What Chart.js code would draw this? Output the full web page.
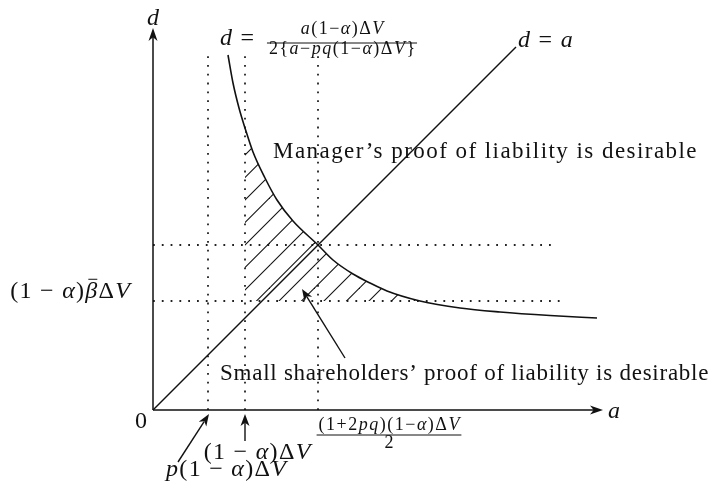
<!DOCTYPE html>
<html lang="en">
<head>
<meta charset="UTF-8">
<title>Proof of liability regions</title>
<script src="https://cdn.jsdelivr.net/npm/chart.js"></script>
<style>
  body { margin: 0; background: #fff; }
  #wrap { width: 714px; height: 490px; }
</style>
</head>
<body>
<div id="wrap"><canvas id="regionChart"></canvas></div>
<script>
// boundary d = a(1-α)ΔV / 2{a - pq(1-α)ΔV}, point by point
const curveA = [75, 80, 86, 92, 100, 112, 124, 140, 165, 180, 200, 217, 234, 267, 307, 347, 397, 444];
const curveD = [355, 327, 302, 282, 258, 232, 210, 189, 165, 150, 136, 127, 119, 109, 102, 98, 94.5, 92];
// hatched band: from a = (1-α)ΔV to where the curve drops to the β̄ level
const hatchFrom = 92, hatchTo = 267;
const diagonalEnd = 363;           // d = a
const guideA = [55, 92, 165];      // p(1-α)ΔV, (1-α)ΔV, (1+2pq)(1-α)ΔV/2
const guideTop = 354;
const levelD = [165, 109];         // crossing level, (1-α)β̄ΔV
const levelEnd = [401, 410];
const axisMaxA = 450, axisMaxD = 382;

const ink = '#111';
const serif = '"Liberation Serif", serif';
const bodySize = 24, bodyTrack = 1.3;
const fracSize = 18, fracTrack = 1.5;

const pts = (xs, ys) => xs.map((v, i) => ({ x: v, y: ys[i] }));

function hatchPattern() {
  const c = document.createElement('canvas');
  c.width = c.height = 45;
  const g = c.getContext('2d');
  g.strokeStyle = '#111';
  g.lineWidth = 1.1;
  for (const k of [17.5, 40, 62.5, 85]) {
    g.beginPath();
    g.moveTo(-5, k + 5);
    g.lineTo(k + 5, -5);
    g.stroke();
  }
  return g.createPattern(c, 'repeat');
}

function arrowHead(ctx, x, y, ang, len = 13, half = 4.5) {
  ctx.save();
  ctx.translate(x, y);
  ctx.rotate(ang);
  ctx.beginPath();
  ctx.moveTo(0, 0);
  ctx.lineTo(-len, -half);
  ctx.lineTo(-len * 0.72, 0);
  ctx.lineTo(-len, half);
  ctx.closePath();
  ctx.fill();
  ctx.restore();
}

// math text: Latin letters and lowercase Greek in italic, the rest upright
function mathItems(ctx, str, size) {
  const items = [];
  for (const ch of str) {
    if (ch === '\u0304') { items[items.length - 1].bar = true; continue; }
    const it = /[A-Za-zα-ω]/.test(ch);
    const font = (it ? 'italic ' : '') + size + 'px ' + serif;
    ctx.font = font;
    items.push({ ch, font, w: ctx.measureText(ch).width });
  }
  return items;
}
function mathWidth(ctx, str, size, track) {
  const items = mathItems(ctx, str, size);
  return items.reduce((s, it) => s + it.w, 0) + track * (items.length - 1);
}
function drawMath(ctx, str, x, y, size, track, align = 'left') {
  const items = mathItems(ctx, str, size);
  const total = items.reduce((s, it) => s + it.w, 0) + track * (items.length - 1);
  let cx = align === 'center' ? x - total / 2 : align === 'right' ? x - total : x;
  ctx.textAlign = 'left';
  ctx.textBaseline = 'alphabetic';
  for (const it of items) {
    ctx.font = it.font;
    ctx.fillText(it.ch, cx, y);
    if (it.bar) {
      ctx.lineWidth = 1;
      ctx.beginPath();
      ctx.moveTo(cx + it.w * 0.25, y - size * 0.78);
      ctx.lineTo(cx + it.w * 1.0, y - size * 0.78);
      ctx.stroke();
    }
    cx += it.w + track;
  }
}
function drawText(ctx, str, x, y, spacing) {
  ctx.font = (bodySize - 1) + 'px ' + serif;
  ctx.letterSpacing = spacing + 'px';
  ctx.textAlign = 'left';
  ctx.textBaseline = 'alphabetic';
  ctx.fillText(str, x, y);
  ctx.letterSpacing = '0px';
}
function drawFrac(ctx, num, den, cx, barD, numD, denD, X, Y) {
  const w = Math.max(mathWidth(ctx, num, fracSize, fracTrack), mathWidth(ctx, den, fracSize, fracTrack)) + 4;
  drawMath(ctx, num, X(cx), Y(numD), fracSize, fracTrack, 'center');
  drawMath(ctx, den, X(cx), Y(denD), fracSize, fracTrack, 'center');
  ctx.lineWidth = 1;
  ctx.beginPath();
  ctx.moveTo(X(cx) - w / 2, Y(barD));
  ctx.lineTo(X(cx) + w / 2, Y(barD));
  ctx.stroke();
}

const labels = [
  { t: 'd', a: 0, d: 385, align: 'center' },
  { t: 'a', a: 455, d: -8 },
  { t: '0', a: -12, d: -18, align: 'center' },
  { t: '(1 − α)β\u0304ΔV', a: -23, d: 112, align: 'right' },
  { t: 'd =', a: 67, d: 365 },
  { t: 'd = a', a: 365, d: 363 },
  { t: '(1 − α)ΔV', a: 104, d: -49, align: 'center' },
  { t: 'p(1 − α)ΔV', a: 73, d: -66, align: 'center' }
];
const notes = [
  { t: 'Manager’s proof of liability is desirable', a: 120, d: 252, spacing: 1.45 },
  { t: 'Small shareholders’ proof of liability is desirable', a: 67, d: 30, spacing: 0.75 }
];
const pointers = [
  { from: [25, -52], to: [56, -4] },
  { from: [92, -31], to: [92, -4] },
  { from: [192, 52], to: [149, 121] }
];

const diagramPlugin = {
  id: 'diagram',
  afterDatasetsDraw(chart) {
    const { ctx, scales: { x, y } } = chart;
    const X = v => x.getPixelForValue(v), Y = v => y.getPixelForValue(v);
    ctx.save();
    ctx.strokeStyle = ink;
    ctx.fillStyle = ink;
    ctx.lineCap = 'butt';

    // axes with arrow tips
    ctx.lineWidth = 1.5;
    ctx.beginPath();
    ctx.moveTo(X(0), Y(0)); ctx.lineTo(X(axisMaxA) - 9, Y(0));
    ctx.moveTo(X(0), Y(0)); ctx.lineTo(X(0), Y(axisMaxD) + 9);
    ctx.stroke();
    arrowHead(ctx, X(axisMaxA), Y(0), 0);
    arrowHead(ctx, X(0), Y(axisMaxD), -Math.PI / 2);

    // pointer arrows
    ctx.lineWidth = 1.4;
    for (const p of pointers) {
      const x0 = X(p.from[0]), y0 = Y(p.from[1]), x1 = X(p.to[0]), y1 = Y(p.to[1]);
      const ang = Math.atan2(y1 - y0, x1 - x0);
      ctx.beginPath();
      ctx.moveTo(x0, y0);
      ctx.lineTo(x1 - 9 * Math.cos(ang), y1 - 9 * Math.sin(ang));
      ctx.stroke();
      arrowHead(ctx, x1, y1, ang, 12, 4.5);
    }

    for (const l of labels) drawMath(ctx, l.t, X(l.a), Y(l.d), bodySize, bodyTrack, l.align || 'left');
    for (const n of notes) drawText(ctx, n.t, X(n.a), Y(n.d), n.spacing);

    drawFrac(ctx, 'a(1−α)ΔV', '2{a−pq(1−α)ΔV}', 189, 367, 376, 356, X, Y);
    drawFrac(ctx, '(1+2pq)(1−α)ΔV', '2', 236, -25, -20, -38, X, Y);
    ctx.restore();
  }
};

const curve = pts(curveA, curveD);
const hatch = curve.filter(p => p.x >= hatchFrom && p.x <= hatchTo);
const dotted = { borderColor: '#222', borderWidth: 1.8, borderDash: [1.8, 7], pointRadius: 0, showLine: true, fill: false };

const datasets = [
  { data: hatch, showLine: true, pointRadius: 0, borderWidth: 0, borderColor: 'rgba(0,0,0,0)',
    backgroundColor: hatchPattern(), fill: { value: levelD[1] }, cubicInterpolationMode: 'monotone' },
  { data: curve, showLine: true, pointRadius: 0, borderColor: ink, borderWidth: 1.6,
    cubicInterpolationMode: 'monotone', fill: false },
  { data: [{ x: 0, y: 0 }, { x: diagonalEnd, y: diagonalEnd }], showLine: true, pointRadius: 0,
    borderColor: ink, borderWidth: 1.5, fill: false }
];
guideA.forEach(g => datasets.push({ ...dotted, data: [{ x: g, y: 0 }, { x: g, y: guideTop }] }));
levelD.forEach((v, i) => datasets.push({ ...dotted, data: [{ x: 0, y: v }, { x: levelEnd[i], y: v }] }));

new Chart(document.getElementById('regionChart'), {
  type: 'scatter',
  data: { datasets },
  options: {
    responsive: true,
    maintainAspectRatio: false,
    animation: false,
    clip: false,
    layout: { padding: { left: 153, right: 714 - 603, top: 28, bottom: 80 } },
    scales: {
      x: { type: 'linear', min: 0, max: axisMaxA, display: false },
      y: { type: 'linear', min: 0, max: axisMaxD, display: false }
    },
    plugins: { legend: { display: false }, tooltip: { enabled: false } }
  },
  plugins: [diagramPlugin]
});
</script>
</body>
</html>
